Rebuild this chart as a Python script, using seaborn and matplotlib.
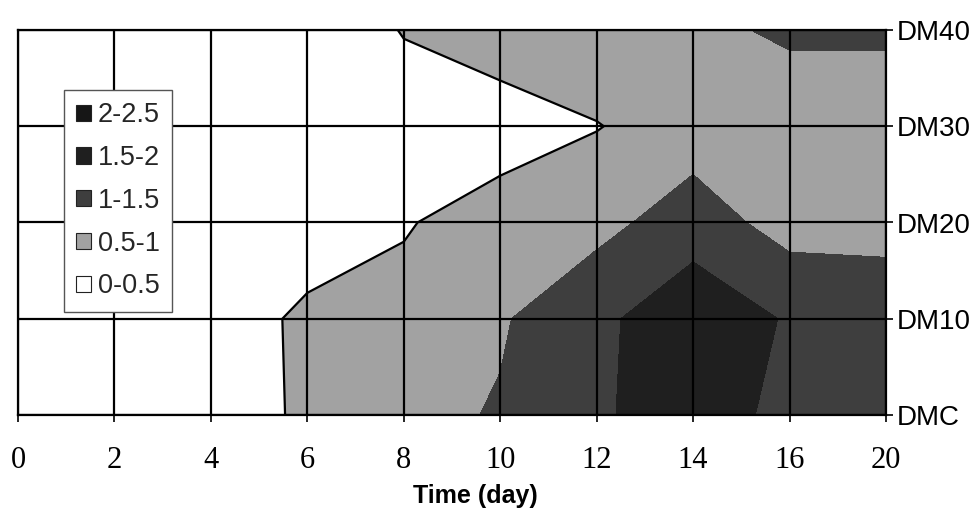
import matplotlib
matplotlib.use('Agg')

import numpy as np
import matplotlib.pyplot as plt
import seaborn as sns
from matplotlib.patches import Patch

# ---- data (rows = depth, columns = day) ----
days = ['0', '2', '4', '6', '8', '10', '12', '14', '16', '20']
depths = ['DMC', 'DM10', 'DM20', 'DM30', 'DM40']

dmc  = [0.15, 0.20, 0.30, 0.56, 0.85, 1.04, 1.45, 1.70, 1.39, 1.25]
dm10 = [0.15, 0.25, 0.30, 0.57, 0.62, 0.95, 1.38, 1.86, 1.45, 1.30]
dm20 = [0.10, 0.20, 0.25, 0.31, 0.47, 0.68, 0.85, 1.25, 0.80, 0.83]
dm30 = [0.10, 0.15, 0.20, 0.20, 0.30, 0.31, 0.48, 0.75, 0.85, 0.85]
dm40 = [0.10, 0.15, 0.20, 0.20, 0.52, 0.71, 0.85, 0.94, 1.04, 1.04]

levels = [0, 0.5, 1, 1.5, 2, 2.5]
level_labels = ['0-0.5', '0.5-1', '1-1.5', '1.5-2', '2-2.5']
level_colors = ['#ffffff', '#a2a2a2', '#3e3e3e', '#1f1f1f', '#161616']

# ---- style ----
sns.set_theme(style='white')
plt.rcParams['font.family'] = ['Liberation Sans', 'DejaVu Sans']

Z = np.array([dmc, dm10, dm20, dm30, dm40])
xs = np.arange(len(days))
ys = np.arange(len(depths))

fig = plt.figure(figsize=(9.79, 5.11), dpi=100)
ax = fig.add_axes([18 / 979, 96 / 511, 868 / 979, 385 / 511])

ax.contourf(xs, ys, Z, levels=levels, colors=level_colors)
ax.contour(xs, ys, Z, levels=[0.5], colors='black', linewidths=1.6)

ax.set_xlim(0, len(days) - 1)
ax.set_ylim(0, len(depths) - 1)

# x axis: category days, serif labels
ax.set_xticks(xs)
ax.set_xticklabels(days, fontfamily='Liberation Serif', fontsize=22)
ax.tick_params(axis='x', direction='out', length=5, width=1.2, pad=17,
               color='black', labelcolor='black', bottom=True)

# y axis on the right
ax.yaxis.tick_right()
ax.set_yticks(ys)
ax.set_yticklabels(depths, fontsize=20)
ax.tick_params(axis='y', direction='out', length=5, width=1.2, pad=3,
               color='black', labelcolor='black', right=True, left=False)

ax.set_xlabel('Time (day)', fontsize=18, fontweight='bold', color='black')
ax.xaxis.set_label_coords(0.527, -0.18)

# black grid on top of the fill
ax.set_axisbelow(False)
ax.grid(True, color='black', linewidth=1.6)
for sp in ax.spines.values():
    sp.set_visible(True)
    sp.set_color('black')
    sp.set_linewidth(1.6)

# legend, highest band first
handles = [Patch(facecolor=c, edgecolor='#222222', linewidth=0.8, label=l)
           for c, l in zip(level_colors[::-1], level_labels[::-1])]
leg = ax.legend(handles=handles, loc='upper left',
                bbox_to_anchor=(0.053, 0.844), borderaxespad=0,
                fontsize=19.5, frameon=True, fancybox=False,
                handlelength=0.55, handleheight=0.55, handletextpad=0.25,
                labelspacing=0.62, borderpad=0.45)
leg.get_frame().set_edgecolor('#555555')
leg.get_frame().set_linewidth(1.0)
leg.get_frame().set_facecolor('white')
leg.get_frame().set_alpha(1)

fig.savefig('out.png', dpi=100)
plt.close(fig)
